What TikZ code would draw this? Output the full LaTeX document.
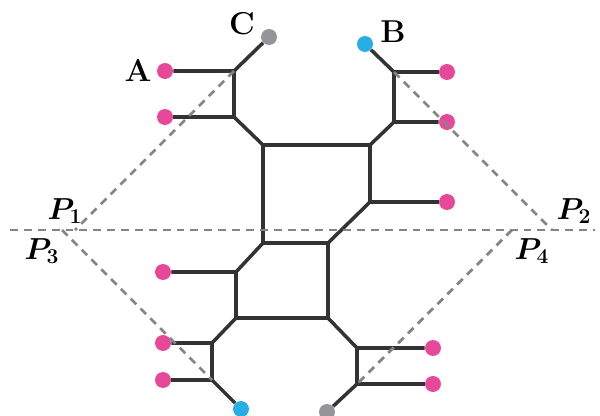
\documentclass[tikz,border=0pt]{standalone}
\usepackage{bm}
\definecolor{darkline}{HTML}{333333}
\definecolor{guidegray}{HTML}{858585}
\definecolor{dotpink}{HTML}{E8489A}
\definecolor{dotblue}{HTML}{27AEE4}
\definecolor{dotgray}{HTML}{939598}
\begin{document}
\begin{tikzpicture}[x=0.02cm,y=-0.02cm,
  edge/.style={line width=2pt,draw=darkline,line join=round},
  guide/.style={line width=1.6pt,draw=guidegray,dash pattern=on 4.5pt off 3.4pt},
  leaf/.style={circle,inner sep=0pt,minimum size=0.32cm},
  pinkdot/.style={leaf,fill=dotpink},
  bluedot/.style={leaf,fill=dotblue},
  graydot/.style={leaf,fill=dotgray},
  lbl/.style={font=\fontsize{18}{20}\selectfont,inner sep=0pt}]
\useasboundingbox (0,0) rectangle (600,416);

\coordinate (tlA) at (234,71);
\coordinate (tlB) at (234,117);
\coordinate (sqTL) at (263,145);
\coordinate (sqTR) at (370,145);
\coordinate (sqR) at (370,202);
\coordinate (sqBL) at (263,243);
\coordinate (sqBR) at (328,243);
\coordinate (loL) at (236,272);
\coordinate (loBL) at (236,318);
\coordinate (loBR) at (328,318);
\coordinate (blA) at (212,343);
\coordinate (blB) at (212,380);
\coordinate (brA) at (357,348);
\coordinate (brB) at (357,384);
\coordinate (trA) at (394,72);
\coordinate (trB) at (394,122);

\coordinate (p1) at (75,230);
\coordinate (p3) at (62,230);
\coordinate (p2) at (552,230);
\coordinate (p4) at (512,230);
\coordinate (hl) at (10,230);
\coordinate (hr) at (595,230);

\node[pinkdot] (dA) at (165,71) {};
\node[pinkdot] (dA2) at (165,117) {};
\node[graydot] (dC) at (269,37) {};
\node[bluedot] (dB) at (365,44) {};
\node[pinkdot] (dT1) at (447,72) {};
\node[pinkdot] (dT2) at (447,122) {};
\node[pinkdot] (dR) at (447,202) {};
\node[pinkdot] (dL) at (163,272) {};
\node[pinkdot] (dBL1) at (163,343) {};
\node[pinkdot] (dBL2) at (163,380) {};
\node[bluedot] (dBlue) at (241,409) {};
\node[pinkdot] (dBR1) at (433,348) {};
\node[pinkdot] (dBR2) at (433,384) {};
\node[graydot] (dGray) at (327,412) {};

\node[lbl] (lA) at (138,70) {\textbf{A}};
\node[lbl] (lC) at (242,24) {\textbf{C}};
\node[lbl] (lB) at (393,32) {\textbf{B}};
\node[lbl] (lP1) at (65,211) {$\bm{P_1}$};
\node[lbl] (lP3) at (42,251) {$\bm{P_3}$};
\node[lbl] (lP2) at (574,211) {$\bm{P_2}$};
\node[lbl] (lP4) at (532,251) {$\bm{P_4}$};

\draw[edge] (dA) -- (tlA) -- (dC);
\draw[edge] (tlA) -- (tlB) -- (dA2);
\draw[edge] (tlB) -- (sqTL) -- (sqTR) -- (trB) -- (dT2);
\draw[edge] (trB) -- (trA) -- (dT1);
\draw[edge] (trA) -- (dB);
\draw[edge] (sqTR) -- (sqR) -- (dR);
\draw[edge] (sqR) -- (sqBR) -- (sqBL) -- (sqTL);
\draw[edge] (sqBL) -- (loL) -- (dL);
\draw[edge] (loL) -- (loBL) -- (loBR) -- (sqBR);
\draw[edge] (loBL) -- (blA) -- (dBL1);
\draw[edge] (blA) -- (blB) -- (dBL2);
\draw[edge] (blB) -- (dBlue);
\draw[edge] (loBR) -- (brA) -- (dBR1);
\draw[edge] (brA) -- (brB) -- (dBR2);
\draw[edge] (brB) -- (dGray);

\draw[guide] (hl) -- (hr);
\draw[guide] (tlA) -- (p1);
\draw[guide] (p3) -- (blB);
\draw[guide] (trA) -- (p2);
\draw[guide] (p4) -- (brB);

\end{tikzpicture}
\end{document}
